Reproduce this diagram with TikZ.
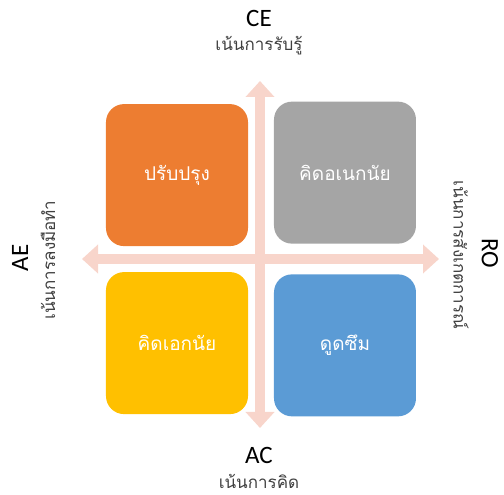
\documentclass[tikz,border=0pt]{standalone}
\usepackage{fontspec}
\setmainfont{Carlito}
\newfontfamily\thaifont[Script=Thai]{Loma}
\usepackage{tikz}
\usetikzlibrary{matrix,arrows.meta}
\usepackage{xcolor}

\definecolor{boxorange}{HTML}{ED7D31}
\definecolor{boxgray}{HTML}{A5A5A5}
\definecolor{boxyellow}{HTML}{FFC000}
\definecolor{boxblue}{HTML}{5B9BD5}
\definecolor{axispink}{HTML}{F8D5CB}
\definecolor{labelgray}{HTML}{404040}

\begin{document}
\begin{tikzpicture} [x=1pt, y=1pt,
  quad/.style={rounded corners=18pt, minimum size=142pt, inner sep=0pt,
    text=white, font=\thaifont\fontsize{19}{22}\selectfont},
  axis/.style={draw=axispink, line width=10pt,
    {Triangle[width=28pt,length=16pt]}-{Triangle[width=28pt,length=16pt]}},
  pole/.style={font=\fontsize{25}{28}\selectfont, text=black},
  hint/.style={font=\thaifont\fontsize{17}{19}\selectfont, text=labelgray}
]
\useasboundingbox (0,0) rectangle (504,495);
\matrix (m) at (261,236) [
  matrix of nodes
  , row sep=26pt
  , column sep=26pt
  , nodes={quad}
]{
  |[fill=boxorange]| ปรับปรุง & |[fill=boxgray]| คิดอเนกนัย \\
  |[fill=boxyellow]| คิดเอกนัย & |[fill=boxblue]| ดูดซึม \\
};
% axes
\coordinate (top) at (260,414);
\coordinate (bot) at (260,67);
\coordinate (lft) at (82,236);
\coordinate (rgt) at (439,236);
\path[axis] (bot) -- (top);
\path[axis] (lft) -- (rgt);
% pole labels
\node[pole] (ce) at (259,477) {CE};
\node[hint] (ce-t) at (259,449) {เน้นการรับรู้};
\node[pole] (ac) at (259,40) {AC};
\node[hint] (ac-t) at (259,14) {เน้นการคิด};
\node[pole, rotate=90] (ae) at (20,237) {AE};
\node[hint, rotate=90] (ae-t) at (48,235) {เน้นการลงมือทำ};
\node[pole, rotate=-90] (ro) at (490,242) {RO};
\node[hint, rotate=-90] (ro-t) at (461,240) {เน้นการสังเกตการณ์};
\end{tikzpicture}
\end{document}
